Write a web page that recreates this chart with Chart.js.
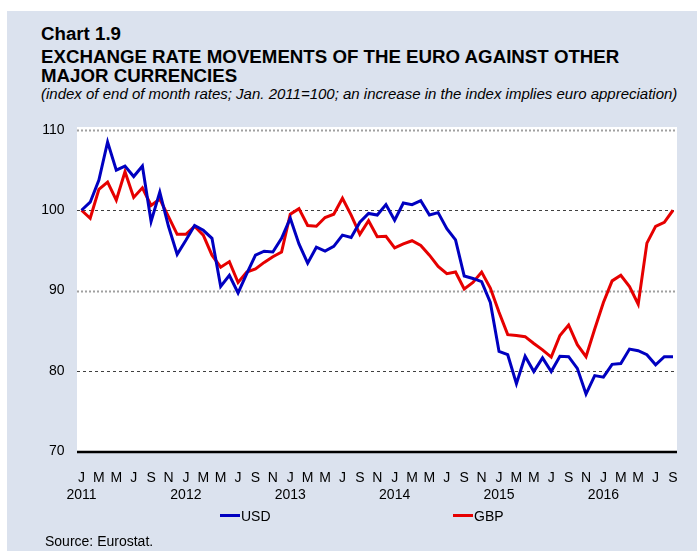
<!DOCTYPE html>
<html>
<head>
<meta charset="utf-8">
<script src="https://cdn.jsdelivr.net/npm/chart.js@4.4.0/dist/chart.umd.min.js"></script>
<style>
  body { margin: 0; background: #fff; }
  #wrap { position: relative; width: 697px; height: 551px; overflow: hidden; font-family: "Liberation Sans", Arial, sans-serif; color: #000; }
  #bg { position: absolute; left: 7px; top: 11px; right: 0; bottom: 0; background: #dbe2ee; }
  #chart { position: absolute; left: 0; top: 0; }
  .t { position: absolute; left: 41px; line-height: 1; white-space: nowrap; }
  .h { font-size: 18.7px; font-weight: bold; }
  .sub { font-size: 15px; font-style: italic; }
  .leg { position: absolute; height: 3px; width: 20px; }
  .legtxt { position: absolute; font-size: 14px; line-height: 1; }
</style>
</head>
<body>
<div id="wrap">
  <div id="bg"></div>
  <div class="t h" style="top:25.2px">Chart 1.9</div>
  <div class="t h" style="top:48.2px">EXCHANGE RATE MOVEMENTS OF THE EURO AGAINST OTHER</div>
  <div class="t h" style="top:67.2px">MAJOR CURRENCIES</div>
  <div class="t sub" style="top:86.3px">(index of end of month rates; Jan. 2011=100; an increase in the index implies euro appreciation)</div>
  <canvas id="chart" width="697" height="551"></canvas>
  <div class="leg" style="left:220px; top:513.5px; background:#0000c0"></div>
  <div class="legtxt" style="left:241px; top:508.5px">USD</div>
  <div class="leg" style="left:453px; top:513.5px; background:#e60000"></div>
  <div class="legtxt" style="left:474px; top:508.5px">GBP</div>
  <div class="t" style="left:45px; top:533.5px; font-size:14px">Source: Eurostat.</div>
</div>
<script>
// rótulos dos meses e anos (jan 2011 - set 2016)
const monthLetters = ['J', 'F', 'M', 'A', 'M', 'J', 'J', 'A', 'S', 'O', 'N', 'D'];
const years = [2011, 2012, 2013, 2014, 2015, 2016];
const nMonths = 69;

// índice, jan 2011 = 100
const usd = [
  100, 101.0, 103.75, 108.5, 105.0, 105.5, 104.2, 105.5, 98.6, 102.25, 98.0, 94.5,
  96.25, 98.1, 97.5, 96.5, 90.5, 91.9, 89.7, 92.1, 94.4, 94.9, 94.8, 96.5,
  99.0, 95.8, 93.4, 95.4, 94.9, 95.5, 96.9, 96.6, 98.5, 99.6, 99.4, 100.7,
  98.75, 100.9, 100.7, 101.2, 99.4, 99.7, 97.7, 96.3, 91.8, 91.5, 91.1, 88.5,
  82.4, 82.0, 78.4, 81.8, 79.9, 81.6, 79.9, 81.8, 81.75, 80.3, 77.1, 79.4,
  79.2, 80.8, 80.9, 82.7, 82.5, 82.0, 80.75, 81.75, 81.75
];
const gbp = [
  100, 99.0, 102.6, 103.5, 101.25, 104.8, 101.6, 102.8, 100.6, 101.4, 99.2, 97.0,
  97.0, 98.0, 96.9, 94.4, 92.9, 93.6, 91.0, 92.3, 92.7, 93.5, 94.2, 94.8,
  99.5, 100.2, 98.1, 98.0, 99.1, 99.5, 101.5, 99.4, 97.0, 98.7, 96.7, 96.75,
  95.3, 95.8, 96.2, 95.6, 94.4, 93.0, 92.1, 92.3, 90.2, 91.0, 92.3, 90.3,
  87.3, 84.5, 84.4, 84.25, 83.4, 82.6, 81.7, 84.4, 85.7, 83.25, 81.75, 85.2,
  88.5, 91.2, 91.9, 90.5, 88.3, 95.9, 98.0, 98.5, 100.0
];

const labels = [];
for (let i = 0; i < nMonths; i++) labels.push(monthLetters[i % 12]);

// fundo branco, linhas de grade e eixo
const framePlugin = {
  id: 'frame',
  beforeDatasetsDraw(chart) {
    const { ctx, chartArea: a, scales: { y } } = chart;
    ctx.save();
    ctx.fillStyle = '#fff';
    ctx.fillRect(a.left - 4.5, a.top - 3, a.width + 8.5, a.height + 3);
    [110, 100, 90, 80].forEach(v => {
      const py = Math.round(y.getPixelForValue(v)) + 0.5;
      const dotted = (v === 110 || v === 90);
      ctx.beginPath();
      ctx.strokeStyle = dotted ? '#a0a0a0' : '#404040';
      ctx.lineWidth = dotted ? 2 : 1;
      ctx.setLineDash(dotted ? [2, 2] : [3, 3]);
      ctx.moveTo(a.left - 4.5, py);
      ctx.lineTo(a.right + 4, py);
      ctx.stroke();
    });
    ctx.setLineDash([]);
    ctx.beginPath();
    ctx.strokeStyle = '#000';
    ctx.lineWidth = 2.5;
    ctx.moveTo(a.left - 4.5, a.bottom + 1);
    ctx.lineTo(a.right + 4, a.bottom + 1);
    ctx.stroke();
    ctx.restore();
  }
};

new Chart(document.getElementById('chart'), {
  type: 'line',
  data: {
    labels: labels,
    datasets: [
      { label: 'USD', data: usd, borderColor: '#0000c0', borderWidth: 3, pointRadius: 0, tension: 0, fill: false },
      { label: 'GBP', data: gbp, borderColor: '#e60000', borderWidth: 3, pointRadius: 0, tension: 0, fill: false }
    ]
  },
  options: {
    responsive: false,
    animation: false,
    devicePixelRatio: 1,
    layout: { padding: { left: 0, right: 24, top: 130, bottom: 0 } },
    plugins: { legend: { display: false }, tooltip: { enabled: false } },
    scales: {
      x: {
        grid: { display: false },
        border: { display: false },
        afterFit: s => { s.height = 100; },
        ticks: {
          autoSkip: false, maxRotation: 0, minRotation: 0, padding: 11,
          color: '#000', font: { family: 'Liberation Sans', size: 14 },
          callback: function (value, index) {
            const m = index % 12;
            if (m % 2) return '';
            if (m === 0) return [monthLetters[m], String(years[index / 12])];
            return monthLetters[m];
          }
        }
      },
      y: {
        min: 70, max: 110,
        grid: { display: false, drawTicks: false },
        border: { display: false },
        afterFit: s => { s.width = 81.5; },
        ticks: { stepSize: 10, padding: 17, color: '#000', font: { family: 'Liberation Sans', size: 14 } }
      }
    }
  },
  plugins: [framePlugin]
});
</script>
</body>
</html>
